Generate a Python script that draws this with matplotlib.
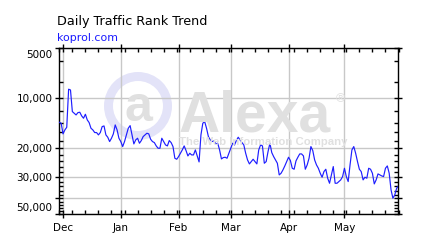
#!/usr/bin/env python3
"""Alexa-style daily traffic rank trend for koprol.com."""

import datetime as dt

import matplotlib as mpl
import matplotlib.dates as mdates
import matplotlib.pyplot as plt
from matplotlib import patches, ticker
from matplotlib.transforms import ScaledTranslation

mpl.rcParams.update(
    {
        "font.family": "DejaVu Sans",
        "font.size": 7.5,
        "xtick.labelsize": 7.5,
        "ytick.labelsize": 7.5,
        "figure.facecolor": "white",
        "axes.facecolor": "white",
        "axes.linewidth": 1.0,
    }
)

# daily rank, one value per day starting 2010-11-29
START = dt.date(2010, 11, 29)
RANKS = [
    13950, 14140, 16390, 15510, 14950, 8820, 8910, 12030, 12310, 12600,
    12200, 12140, 12770, 13190, 12480, 13500, 14010, 15160, 15510, 16090,
    16090, 16620, 16090, 14810, 14680, 16620, 17170, 18230, 17410, 16390,
    14470, 15510, 17410, 18230, 19540, 18230, 16620, 15160, 14610, 16620,
    18830, 17820, 17410, 18660, 17980, 17010, 16620, 16240, 16390, 17650,
    18230, 18490, 19360, 20000, 20000, 17410, 18230, 19100, 19360, 17980,
    18490, 19540, 22980, 23300, 22450, 21440, 20470, 19360, 20660, 22250,
    21440, 21940, 21940, 20470, 22250, 24180, 16620, 14140, 13820, 15160,
    17010, 17820, 18230, 18060, 18830, 18660, 20470, 23190, 22770, 22660,
    22980, 21440, 20000, 18660, 19100, 17980, 17170, 17820, 18490, 19100,
    21440, 23520, 24860, 24070, 23300, 24070, 24860, 20470, 19100, 19360,
    24630, 24070, 20950, 18660, 21240, 22450, 23520, 24630, 28950, 28290,
    27010, 25560, 24070, 22660, 23730, 26400, 26760, 23840, 22660, 21640,
    21640, 22250, 26760, 25200, 22980, 19540, 20660, 23520, 25200, 26400,
    28290, 29900, 27650, 26760, 30320, 32500, 28950, 25790, 32500, 32500,
    31750, 31030, 29630, 26400, 29630, 31750, 25200, 20470, 19540, 21440,
    24070, 26760, 27650, 31030, 29900, 30320, 26400, 26760, 28290, 32800,
    31030, 28550, 28950, 29360, 29630, 26400, 25560, 28290, 35650, 40010,
    38210, 34840, 33720,
]
DATES = [START + dt.timedelta(days=i) for i in range(len(RANKS))]

Y_TICKS = [5000, 10000, 20000, 30000, 40000, 50000]
Y_LABELS = ["5000", "10,000", "20,000", "30,000", "", "50,000"]
Y_MINOR = [6000, 8000, 12000, 14000, 16000, 18000, 22000, 24000, 26000, 28000,
           32000, 34000, 36000, 38000, 42000, 44000, 46000, 48000]

TITLE = "Daily Traffic Rank Trend"
SITE = "koprol.com"

W, H = 427, 242
LINE_BLUE = "#1e1eff"
GRID = "#c8c8c8"
WATERMARK = "#e0e0e0"
LAVENDER = "#e3e3f8"


def _watermark(fig, ax) -> None:
    px = fig.dpi_scale_trans
    cx, cy = 138 / 100, (H - 106) / 100
    ax.add_patch(patches.Circle((cx, cy), 0.34, transform=px, facecolor=LAVENDER,
                                edgecolor="none", zorder=0.2, clip_on=False))
    ax.add_patch(patches.Circle((cx, cy), 0.25, transform=px, facecolor="white",
                                edgecolor="none", zorder=0.3, clip_on=False))
    fig.text(138 / W, 1 - 108 / H, "a", color=WATERMARK, fontsize=36, fontweight="bold",
             family="Liberation Sans", ha="center", va="center", zorder=0.4)
    fig.text(179 / W, 1 - 131 / H, "Alexa", color=WATERMARK, fontsize=41, fontweight="bold",
             family="Liberation Sans", ha="left", va="baseline", zorder=0.4)
    fig.text(336 / W, 1 - 99 / H, "®", color=WATERMARK, fontsize=9,
             family="Liberation Sans", ha="left", va="center", zorder=0.4)
    fig.text(179 / W, 1 - 145 / H, "The Web Information Company", color=WATERMARK,
             fontsize=8.2, fontweight="bold", family="Liberation Sans",
             ha="left", va="baseline", zorder=0.4)


def main() -> None:
    fig = plt.figure(figsize=(W / 100, H / 100), dpi=100)
    ax = fig.add_axes([59.3 / W, 1 - 214.3 / H, (398.5 - 59.3) / W, (214.3 - 48.3) / H])
    ax.patch.set_alpha(0)

    _watermark(fig, ax)

    ax.plot(DATES, RANKS, color=LINE_BLUE, linewidth=0.85, zorder=3)

    ax.set_yscale("log")
    ax.set_ylim(50000, 5000)
    ax.yaxis.set_major_locator(ticker.FixedLocator(Y_TICKS))
    ax.yaxis.set_major_formatter(ticker.FixedFormatter(Y_LABELS))
    ax.yaxis.set_minor_locator(ticker.FixedLocator(Y_MINOR))
    ax.yaxis.set_minor_formatter(ticker.NullFormatter())

    ax.set_xlim(DATES[0], DATES[-1])
    ax.xaxis.set_major_locator(mdates.MonthLocator())
    ax.xaxis.set_major_formatter(mdates.DateFormatter("%b"))
    ax.xaxis.set_minor_locator(mdates.WeekdayLocator(byweekday=mdates.MO))

    ax.grid(True, which="major", color=GRID, linewidth=1.0, zorder=1)
    ax.set_axisbelow(True)

    ax.tick_params(which="both", top=True, right=True, direction="in", color="black")
    ax.tick_params(which="major", length=5, width=1, pad=2)
    ax.tick_params(which="minor", length=3, width=1)
    ax.tick_params(axis="y", which="major", direction="inout", length=6, pad=2)
    ax.tick_params(axis="x", which="major", direction="inout", length=6, pad=3)

    # edge labels are nudged inside the frame like the original
    labels = ax.get_yticklabels()
    labels[0].set_transform(labels[0].get_transform() + ScaledTranslation(0, -6 / 100, fig.dpi_scale_trans))
    labels[-1].set_transform(labels[-1].get_transform() + ScaledTranslation(0, 7 / 100, fig.dpi_scale_trans))

    fig.text(57 / W, 1 - 22 / H, TITLE, fontsize=9.2, ha="left", va="center", color="black")
    fig.text(57 / W, 1 - 38 / H, SITE, fontsize=7.9, ha="left", va="center", color="#1a1aff")

    fig.savefig("out.png", dpi=100)
    plt.close(fig)


if __name__ == "__main__":
    main()
